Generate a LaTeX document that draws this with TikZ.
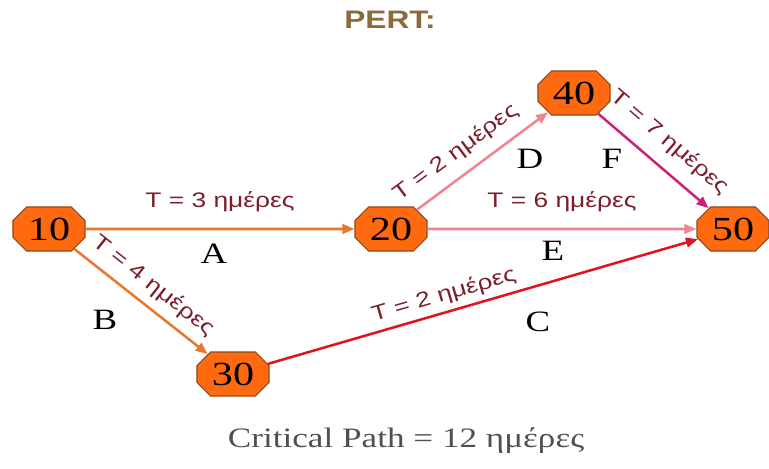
\documentclass[tikz,border=0pt]{standalone}
\usepackage{fontspec}
\setmainfont{Liberation Serif}[FakeStretch=1.25]
\setsansfont{Liberation Sans}[FakeStretch=1.25]
\usetikzlibrary{arrows.meta,shapes.misc}
\definecolor{evt-fill}{HTML}{FF6A10}
\definecolor{evt-draw}{HTML}{8B4A1C}
\definecolor{actA}{HTML}{E8782C}
\definecolor{actD}{HTML}{F08592}
\definecolor{actC}{HTML}{E0141E}
\definecolor{actF}{HTML}{CC2277}
\definecolor{lbl-red}{HTML}{7A1F2B}
\definecolor{title-brown}{HTML}{8B6B3D}
\definecolor{note-gray}{HTML}{505050}

\begin{document}
\begin{tikzpicture}[
 x=0.025cm, y=-0.025cm,
 evt/.style={chamfered rectangle, chamfered rectangle xsep=0.22cm,
 chamfered rectangle ysep=0.12cm, draw=evt-draw, fill=evt-fill, line width=0.8pt,
 minimum width=1.8cm, minimum height=1.1cm, inner sep=0pt,
 font=\fontsize{24}{26}\selectfont},
 act/.style={font=\fontsize{21}{23}\selectfont},
 dur/.style={font=\sffamily\fontsize{15}{17}\selectfont, text=lbl-red, inner sep=1pt},
 ar/.style={-{Triangle[length=3mm,width=2.4mm]}, line width=1.8pt},
]
 \path[use as bounding box] (0,0) rectangle (769,468);

 \node[font=\sffamily\bfseries\fontsize{18}{20}\selectfont, text=title-brown] (title) at (390,20) {PERT:};

 \node[evt] (n10) at (49,229) {10};
 \node[evt] (n20) at (391,229) {20};
 \node[evt] (n30) at (233,374) {30};
 \node[evt] (n40) at (574,93) {40};
 \node[evt] (n50) at (733,229) {50};

 \draw[ar, actA] (n10) -- node[dur, above=0.37cm]{T = 3 ημέρες} (n20);
 \draw[ar, actA] (n10) -- node[dur, sloped, above=0.18cm]{T = 4 ημέρες} (n30);
 \draw[ar, actD] (n20) -- node[dur, sloped, above=0.24cm, pos=0.4]{T = 2 ημέρες} (n40);
 \draw[ar, actD] (n20) -- node[dur, above=0.37cm]{T = 6 ημέρες} (n50);
 \draw[ar, actF] (n40) -- node[dur, sloped, above=0.3cm, pos=0.5]{T = 7 ημέρες} (n50);
 \draw[ar, actC] (n30) -- node[dur, sloped, above=0.1cm, pos=0.42]{T = 2 ημέρες} (n50);

 \node[act] (lA) at (214,254) {A};
 \node[act] (lB) at (105,320) {B};
 \node[act] (lC) at (538,322) {C};
 \node[act] (lD) at (530,159) {D};
 \node[act] (lE) at (553,251) {E};
 \node[act] (lF) at (612,159) {F};

 \node[font=\fontsize{20}{22}\selectfont, text=note-gray] (crit) at (406,441) {Critical Path = 12 ημέρες};
\end{tikzpicture}
\end{document}
